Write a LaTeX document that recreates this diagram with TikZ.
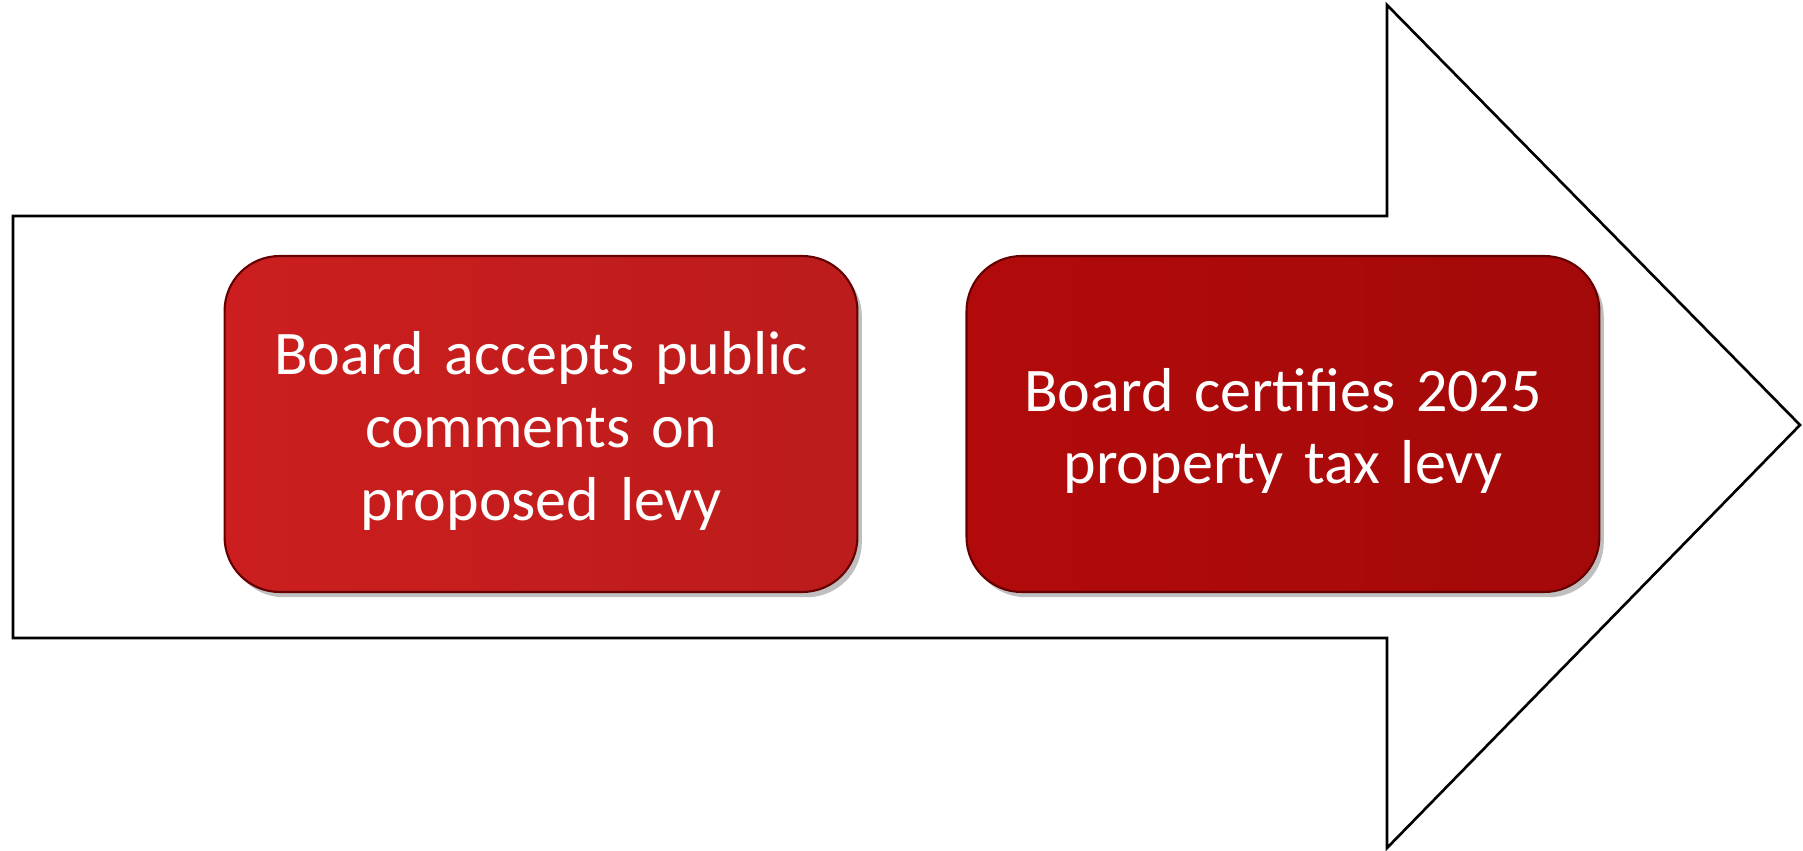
\documentclass[tikz,border=0pt]{standalone}
\usepackage{fontspec}
\setmainfont{Carlito}
\usetikzlibrary{positioning,shadows}
\definecolor{stepred}{RGB}{204,30,30}
\definecolor{stepreddark}{RGB}{178,10,10}
\definecolor{stepedge}{RGB}{100,0,0}
\tikzset{
  timeline/.style={
    draw=black,
    line width=1.5pt,
    line join=miter,
    fill=white
  },
  stepbox/.style={
    rounded corners=1.1cm,
    minimum width=12.66cm,
    minimum height=6.72cm,
    text width=11.6cm,
    align=center,
    text=white,
    font=\fontsize{35.3}{41.5}\selectfont,
    execute at end node={\par\vspace*{-0.28cm}},
    draw=stepedge,
    line width=1.2pt,
    drop shadow={shadow xshift=2.5pt, shadow yshift=-3pt, fill=black!50}
  },
  step-first/.style={stepbox, left color=stepred, right color=stepred!92!black},
  step-second/.style={stepbox, left color=stepreddark, right color=stepreddark!92!black}
}

\begin{document}
\begin{tikzpicture}[x=0.02cm,y=-0.02cm]
  \useasboundingbox (0,0) rectangle (1803,851);

  % big arrow behind the steps
  \draw[timeline] (13,216) -- (1387,216) -- (1387,5) -- (1800,425)
    -- (1387,848) -- (1387,638) -- (13,638) -- cycle;

  % the two steps
  \node[step-first] (accept) at (541,424)
    {Board accepts public\\comments on\\proposed levy};
  \node[step-second, right=2.14cm of accept] (certify)
    {Board certifies 2025\\property tax levy};
\end{tikzpicture}
\end{document}
